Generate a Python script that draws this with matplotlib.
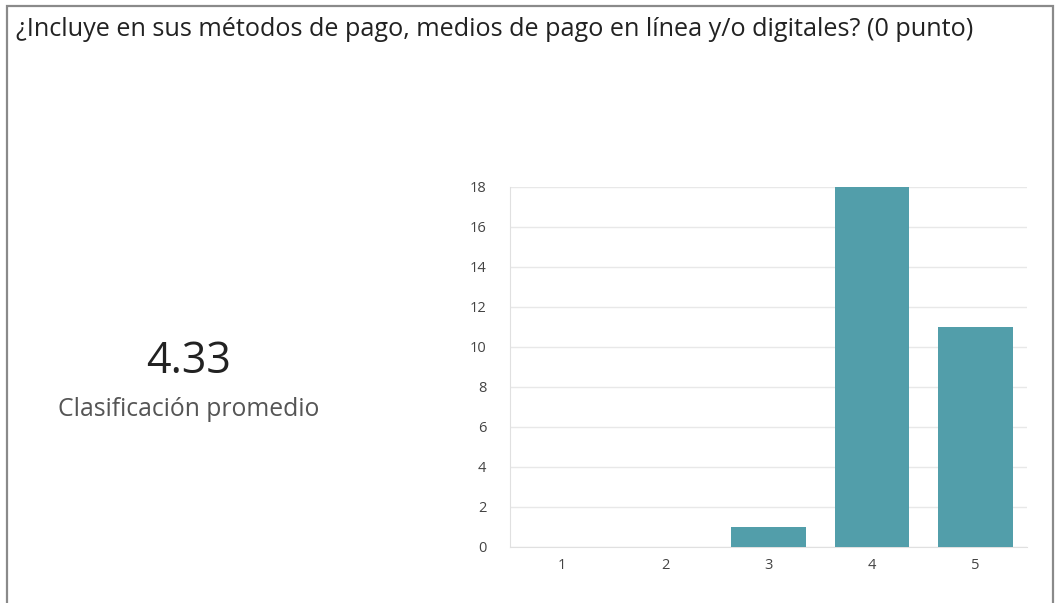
import matplotlib
matplotlib.use("Agg")
import matplotlib.pyplot as plt
from matplotlib.patches import Rectangle

categories = ["1", "2", "3", "4", "5"]
counts = [0, 0, 1, 18, 11]
yticks = [0, 2, 4, 6, 8, 10, 12, 14, 16, 18]
title = "¿Incluye en sus métodos de pago, medios de pago en línea y/o digitales? (0 punto)"
average = "4.33"
average_label = "Clasificación promedio"

plt.rcParams['font.family'] = ['Open Sans', 'DejaVu Sans']

W, H = 1061, 603
fig = plt.figure(figsize=(W / 100, H / 100), dpi=100)
fig.patch.set_facecolor("white")

# border
border = Rectangle((7 / W, -0.05), (1053 - 7) / W, 1.05 - 6 / H,
                   transform=fig.transFigure, fill=False, edgecolor="#8a8a8a",
                   linewidth=1.6)
fig.patches.append(border)

fig.text(16 / W, 1 - 30 / H, title, fontsize=18.2, color="#222222",
         ha="left", va="center")
fig.text(189 / W, 1 - 362 / H, average, fontsize=31, color="#222222",
         ha="center", va="center")
fig.text(189 / W, 1 - 409 / H, average_label, fontsize=17.8, color="#555555",
         ha="center", va="center")

left, right, top, bottom = 510, 1027, 187, 547
ax = fig.add_axes([left / W, 1 - bottom / H, (right - left) / W, (bottom - top) / H])
x = list(range(1, len(categories) + 1))
ax.bar(x, counts, width=0.72, color="#529EAA", zorder=3)
ax.set_xlim(0.5, len(categories) + 0.5)
ax.set_ylim(0, 18)
ax.set_yticks(yticks)
ax.set_xticks(x)
ax.set_xticklabels(categories)
ax.grid(axis="y", color="#e8e8e8", linewidth=1.0, zorder=0)
for s in ["top", "right"]:
    ax.spines[s].set_visible(False)
ax.spines["left"].set_color("#e0e0e0")
ax.spines["bottom"].set_color("#e0e0e0")
ax.tick_params(axis="both", length=0, labelsize=10.5, colors="#444444")
ax.tick_params(axis="y", pad=17)
ax.tick_params(axis="x", pad=8)

fig.savefig("out.png", dpi=100, facecolor="white")
